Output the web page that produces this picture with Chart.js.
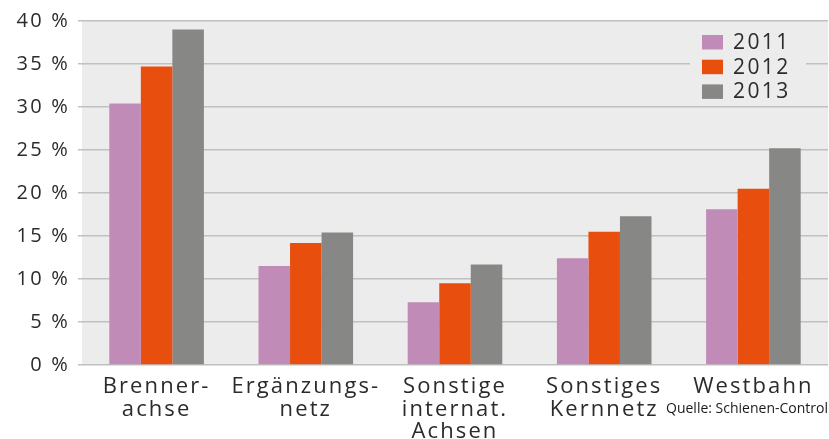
<!DOCTYPE html>
<html>
<head>
<meta charset="utf-8">
<script src="https://cdn.jsdelivr.net/npm/chart.js@4.4.1/dist/chart.umd.min.js"></script>
<style>
  html, body { margin: 0; padding: 0; background: #ffffff; }
  #wrap { width: 829px; height: 439px; }
</style>
</head>
<body>
<div id="wrap"><canvas id="c" width="829" height="439"></canvas></div>
<script>
// Multi-line category labels
const categories = [
  ['Brenner-', 'achse'],
  ['Ergänzungs-', 'netz'],
  ['Sonstige', 'internat.', 'Achsen'],
  ['Sonstiges', 'Kernnetz'],
  ['Westbahn']
];
const years = ['2011', '2012', '2013'];
const values2011 = [30.4, 11.5, 7.3, 12.4, 18.1];
const values2012 = [34.7, 14.2, 9.5, 15.5, 20.5];
const values2013 = [39.0, 15.4, 11.7, 17.3, 25.2];
const yTickLabels = ['0 %', '5 %', '10 %', '15 %', '20 %', '25 %', '30 %', '35 %', '40 %'];
const sourceNote = 'Quelle: Schienen-Control';

const colors = ['#c08bb6', '#e84f0f', '#878786'];
const textColor = '#2b2b2b';
const plotBg = '#ececec';
const gridColor = '#c0c0c0';

// Per-axis tracking of the label glyphs
const labelSpacing = { x: '2.1px', y: '2.2px' };

const spacingPlugin = {
  id: 'labelSpacing',
  afterLayout(chart) {
    Object.entries(labelSpacing).forEach(([id, sp]) => {
      const scale = chart.scales[id];
      if (!scale || scale._spacedLabels) return;
      const orig = scale.drawLabels.bind(scale);
      scale.drawLabels = function (area) {
        const ctx = this.ctx;
        ctx.save();
        ctx.letterSpacing = sp;
        orig(area);
        ctx.restore();
      };
      scale._spacedLabels = true;
    });
  }
};

const backgroundPlugin = {
  id: 'plotBackground',
  beforeDraw(chart) {
    const { ctx, chartArea: a } = chart;
    ctx.save();
    ctx.fillStyle = plotBg;
    ctx.fillRect(a.left, a.top, a.right - a.left, a.bottom - a.top);
    ctx.restore();
  }
};

const legendPlugin = {
  id: 'insetLegend',
  afterDatasetsDraw(chart) {
    const { ctx } = chart;
    ctx.save();
    ctx.fillStyle = plotBg;
    ctx.fillRect(690, 28, 116, 74);
    ctx.font = '21px "Open Sans"';
    ctx.letterSpacing = '2.4px';
    ctx.textBaseline = 'middle';
    ctx.textAlign = 'left';
    chart.data.datasets.forEach((ds, i) => {
      const y = 42 + i * 24.7;
      ctx.fillStyle = ds.backgroundColor;
      ctx.fillRect(702, y - 7, 21, 14.5);
      ctx.fillStyle = textColor;
      ctx.fillText(ds.label, 733, y + 1);
    });
    ctx.restore();
  }
};

const notePlugin = {
  id: 'sourceNote',
  afterDraw(chart) {
    const { ctx } = chart;
    ctx.save();
    ctx.font = '14px "Open Sans"';
    ctx.fillStyle = '#1a1a1a';
    ctx.textAlign = 'right';
    ctx.textBaseline = 'alphabetic';
    ctx.fillText(sourceNote, 828, 413);
    ctx.restore();
  }
};

const seriesValues = [values2011, values2012, values2013];

new Chart(document.getElementById('c'), {
  type: 'bar',
  data: {
    labels: categories,
    datasets: years.map((y, i) => ({
      label: y,
      data: seriesValues[i],
      backgroundColor: colors[i],
      borderWidth: 0,
      categoryPercentage: 0.634,
      barPercentage: 1.0
    }))
  },
  options: {
    responsive: false,
    devicePixelRatio: 1,
    animation: false,
    layout: { padding: { top: 21, right: 1, left: 0, bottom: 0 } },
    plugins: {
      legend: { display: false },
      tooltip: { enabled: false }
    },
    scales: {
      x: {
        grid: { display: false },
        border: { display: false },
        ticks: {
          color: textColor,
          font: { family: 'Open Sans', size: 22, lineHeight: 1.04 },
          padding: 2,
          maxRotation: 0,
          autoSkip: false
        },
        afterFit(scale) { scale.height = 74; }
      },
      y: {
        min: 0,
        max: 40,
        grid: {
          color: gridColor,
          lineWidth: 1.5,
          drawTicks: true,
          tickLength: 4
        },
        border: { display: false },
        ticks: {
          stepSize: 5,
          color: textColor,
          font: { family: 'Open Sans', size: 20 },
          padding: 8,
          callback: (v, i) => yTickLabels[i]
        },
        afterFit(scale) { scale.width = 82; }
      }
    }
  },
  plugins: [spacingPlugin, backgroundPlugin, legendPlugin, notePlugin]
});
</script>
</body>
</html>
